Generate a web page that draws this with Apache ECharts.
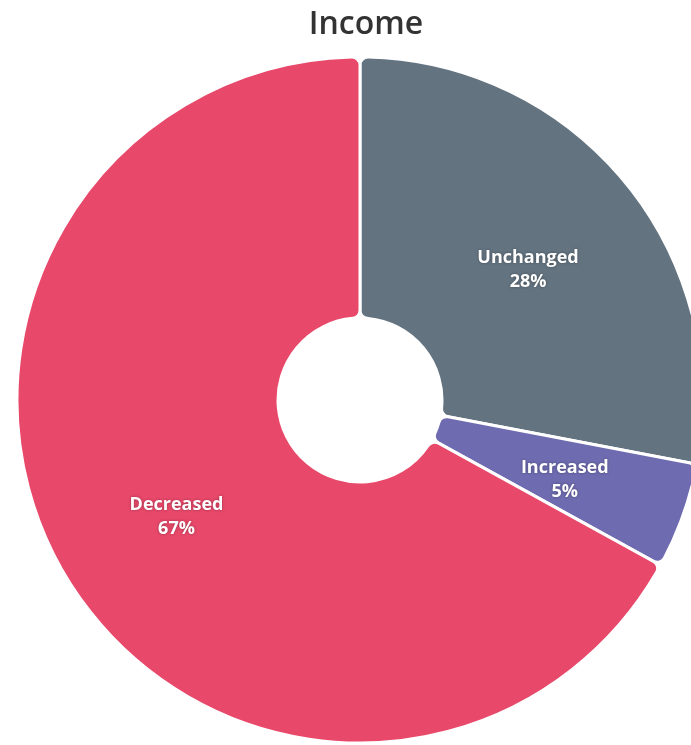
<!DOCTYPE html>
<html>
<head>
<meta charset="utf-8">
<script src="https://cdn.jsdelivr.net/npm/echarts@6/dist/echarts.min.js"></script>
<style>
  html, body { margin: 0; padding: 0; background: #fff; }
  #chart { width: 691px; height: 745px; }
</style>
</head>
<body>
<div id="chart"></div>
<script>
// Income change shares
const categories = ['Unchanged', 'Increased', 'Decreased'];
const shares = [28, 5, 67];
const colors = ['#637380', '#6E6BB0', '#E8486A'];

const chart = echarts.init(document.getElementById('chart'));
chart.setOption({
  animation: false,
  title: {
    text: 'Income',
    left: 361,
    textAlign: 'center',
    top: 4,
    textStyle: {
      fontFamily: 'Open Sans',
      fontWeight: 600,
      fontSize: 32,
      color: '#333'
    }
  },
  series: [{
    type: 'pie',
    center: [360, 400],
    radius: [82, 343],
    startAngle: 90,
    clockwise: true,
    avoidLabelOverlap: false,
    itemStyle: {
      borderColor: '#fff',
      borderWidth: 3,
      borderRadius: 8
    },
    label: {
      show: true,
      position: 'inside',
      formatter: '{b}\n{d}%',
      color: '#fff',
      fontFamily: 'Open Sans',
      fontWeight: 'bold',
      fontSize: 18,
      lineHeight: 24,
      offset: [2, 7],
      textShadowColor: 'rgba(0,0,0,0.35)',
      textShadowBlur: 3
    },
    labelLine: { show: false },
    data: categories.map((name, i) => ({
      name: name,
      value: shares[i],
      itemStyle: { color: colors[i] }
    }))
  }]
});
</script>
</body>
</html>
